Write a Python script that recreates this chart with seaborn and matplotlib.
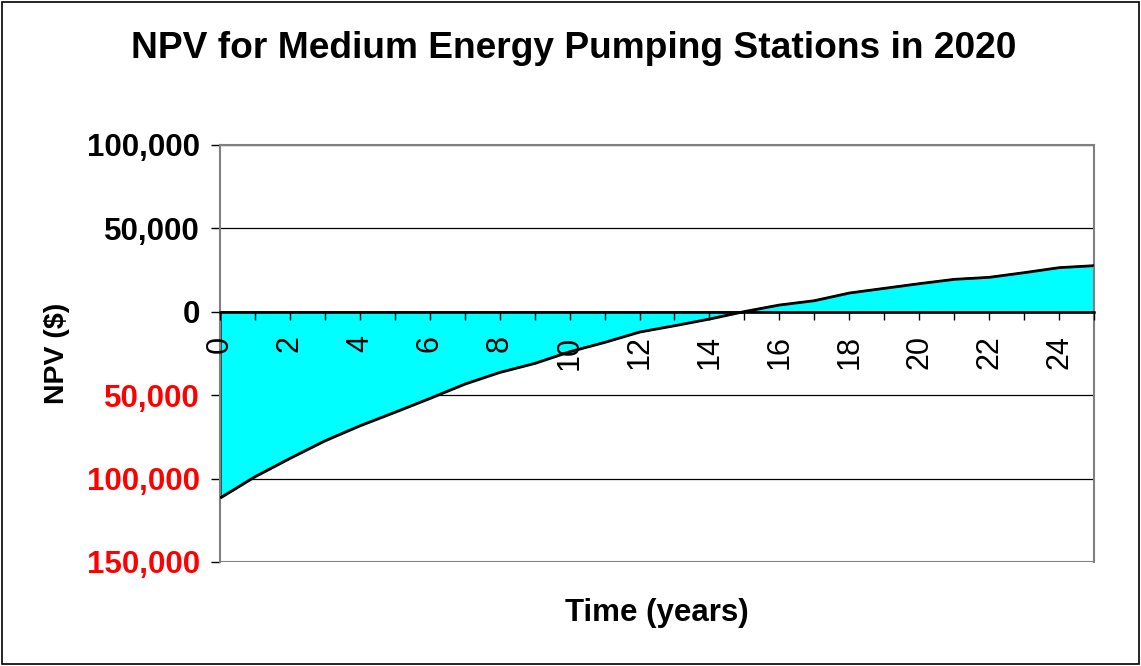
import matplotlib
matplotlib.use("Agg")
import matplotlib.pyplot as plt
import seaborn as sns
import pandas as pd
from matplotlib.patches import Rectangle

years = list(range(26))
npv = [-111500, -98700, -87700, -77200, -68200, -60100, -51800, -43200, -36200, -30800,
       -23800, -18200, -12000, -8200, -4200, 300, 4200, 6800, 11400, 14200,
       17000, 19600, 20800, 23600, 26600, 27800]
y_ticks = [-150000, -100000, -50000, 0, 50000, 100000]
x_label_ticks = list(range(0, 26, 2))

title = "NPV for Medium Energy Pumping Stations in 2020"
xlabel = "Time (years)"
ylabel = "NPV ($)"

df = pd.DataFrame({"year": years, "npv": npv})

sns.set_style("white")
plt.rcParams["font.family"] = ["Liberation Sans", "DejaVu Sans"]
plt.rcParams["text.color"] = "black"
plt.rcParams["xtick.color"] = "black"
plt.rcParams["ytick.color"] = "black"

fig = plt.figure(figsize=(11.41, 6.66), dpi=100)
ax = fig.add_axes([0.1928, 0.1562, 0.766, 0.6261])

ax.fill_between(df["year"], df["npv"], 0, facecolor="#00FFFF", edgecolor="black", linewidth=1.6, zorder=2)
sns.lineplot(data=df, x="year", y="npv", color="black", linewidth=1.6, ax=ax, zorder=3)

ax.set_xlim(0, 25)
ax.set_ylim(-150000, 100000)

ax.spines["bottom"].set_position(("data", 0))
ax.spines["bottom"].set_color("black")
ax.spines["bottom"].set_linewidth(1.8)
ax.spines["bottom"].set_zorder(4)
for s in ["left", "right", "top"]:
    ax.spines[s].set_color("#808080")
    ax.spines[s].set_linewidth(1.5)

ax.set_yticks(y_ticks)
ax.set_yticklabels([f"{abs(v):,}" for v in y_ticks], fontsize=22.5, fontweight="bold")
for lbl, v in zip(ax.get_yticklabels(), y_ticks):
    lbl.set_color("red" if v < 0 else "black")
ax.yaxis.grid(True, color="black", linewidth=0.9)
ax.set_axisbelow(True)

ax.set_xticks(years)
ax.set_xticklabels([str(y) if y in x_label_ticks else "" for y in years], fontsize=22, rotation=90)
ax.tick_params(axis="x", bottom=True, direction="out", length=6, width=1, color="black", pad=11)
ax.tick_params(axis="y", left=True, direction="out", length=6.5, width=1, color="black", pad=8)
ax.xaxis.set_zorder(5)
ax.axhline(-150000, color="#808080", linewidth=1.5, zorder=1)

ax.set_xlabel("")
ax.set_ylabel("")
fig.text(0.5758, 0.080, xlabel, ha="center", va="center", fontsize=22.5, fontweight="bold")
fig.text(0.050, 0.469, ylabel, ha="center", va="center", fontsize=20.5, fontweight="bold", rotation=90)
fig.text(0.503, 0.927, title, ha="center", va="center", fontsize=26.7, fontweight="bold")

fig.patches.append(Rectangle((0.002, 0.003), 0.996, 0.994, transform=fig.transFigure,
                             fill=False, edgecolor="black", linewidth=1.2))

fig.savefig("out.png", dpi=100)
